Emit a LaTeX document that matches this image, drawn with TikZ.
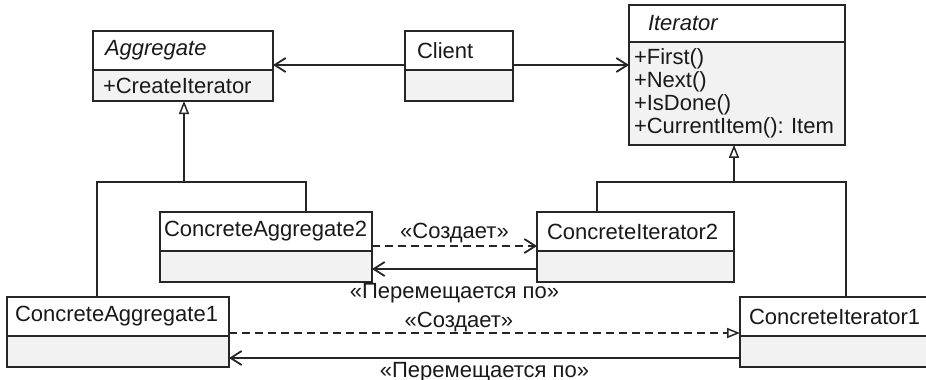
\documentclass[tikz,border=0pt]{standalone}
\usepackage{fontspec}
\setmainfont{Liberation Sans}
\usetikzlibrary{positioning}
\usetikzlibrary{arrows.meta}
\tikzset{>={Straight Barb[width=7pt,length=5.5pt,line width=0.9pt]}}
\tikzset{
  cls/.style={draw=black!85, fill=white, line width=0.75pt, outer sep=0pt, anchor=north west,
    align=left, text width=#1, minimum height=19.5pt, font=\fontsize{11}{11.5}\selectfont, text=black!90},
  ops/.style={cls=#1, fill=gray!10, anchor=north, minimum height=15.5pt},
  gen/.style={-{Triangle[open,width=5pt,length=6.5pt]}},
  dep/.style={dash pattern=on 4pt off 2.5pt},
  lbl/.style={font=\fontsize{11}{11.5}\selectfont, text=black!90, inner sep=0pt}
}

\begin{document}
\frenchspacing
\begin{tikzpicture}[x=0.5pt, y=-0.5pt, line width=0.75pt, draw=black!85]
\useasboundingbox (0,0) rectangle (926,380);

% classes
\node (agg) [cls=78pt, inner xsep=6pt] at (93,31) {\textit{Aggregate}};
\node (aggops) [ops=80pt, inner xsep=5pt, below=0pt of agg] {+CreateIterator};
\node (cl) [cls=42pt, inner xsep=6pt] at (405,31) {Client};
\node (clops) [ops=42pt, inner xsep=6pt, below=0pt of cl] {};
\node (it) [cls=89pt, inner xsep=9.5pt, minimum height=18.5pt] at (629,5) {\textit{Iterator}};
\node (itops) [ops=103pt, inner xsep=2.5pt, minimum height=50.5pt, below=0pt of it]
  {+First()\\+Next()\\+IsDone()\\+CurrentItem(): Item};
\node (ca2) [cls=102pt, inner xsep=2pt] at (160,212) {ConcreteAggregate2};
\node (ca2ops) [ops=102pt, inner xsep=2pt, below=0pt of ca2] {};
\node (ci2) [cls=88.5pt, inner xsep=5pt] at (537,212) {ConcreteIterator2};
\node (ci2ops) [ops=88.5pt, inner xsep=5pt, below=0pt of ci2] {};
\node (ca1) [cls=103pt, inner xsep=4pt] at (7,297) {ConcreteAggregate1};
\node (ca1ops) [ops=103pt, inner xsep=4pt, below=0pt of ca1] {};
\node (ci1) [cls=92pt, inner xsep=4.5pt] at (740,297) {ConcreteIterator1};
\node (ci1ops) [ops=92pt, inner xsep=4.5pt, below=0pt of ci1] {};

% inheritance
\coordinate (aggjoin) at (184,182);
\coordinate (itjoin) at (734,182);
\path [draw] ([xshift=-10.5pt]ca1.north) |- (aggjoin) -| ([xshift=20pt]ca2.north);
\path [draw, gen] (aggjoin) -- (aggjoin |- aggops.south);
\path [draw] ([xshift=-19.25pt]ci2.north) |- (itjoin) -| ([xshift=2.5pt]ci1.north);
\path [draw, gen] (itjoin) -- (itjoin |- itops.south);

% associations
\path [draw, ->] ([yshift=2.5pt]cl.south west) -- ([yshift=2.5pt]agg.south east);
\path [draw, ->] ([yshift=2.5pt]cl.south east) -- ([yshift=2.5pt]cl.south east -| itops.west);
\path [draw, dep, ->] ([yshift=2.5pt]ca2.south east) -- node [lbl, yshift=6.5pt] {«Создает»} ([yshift=2.5pt]ci2.south west);
\path [draw, ->] ([yshift=-1.25pt]ci2ops.west) -- node [lbl, yshift=-12pt] {«Перемещается по»} ([yshift=-1.25pt]ca2ops.east);
\path [draw, dep, -{Triangle[open,width=5pt,length=6.5pt]}] ([yshift=1.5pt]ca1.south east) -- node [lbl, pos=.45, yshift=5.5pt] {«Создает»} ([yshift=1.5pt]ci1.south west);
\path [draw, ->] ([yshift=-3.25pt]ci1ops.west) -- node [lbl, yshift=-7pt] {«Перемещается по»} ([yshift=-3.25pt]ca1ops.east);
\end{tikzpicture}
\end{document}
